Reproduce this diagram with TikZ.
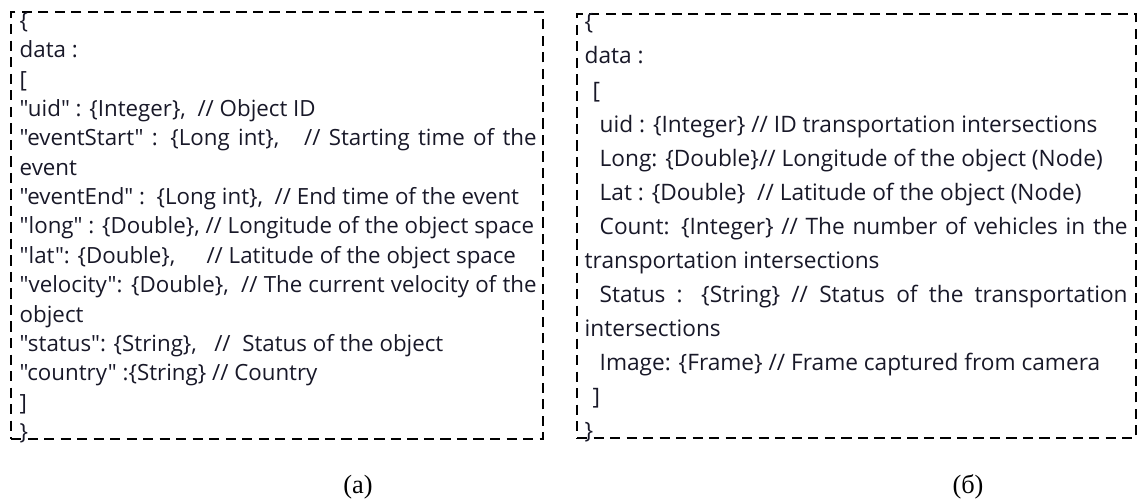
\documentclass[tikz,border=0pt]{standalone}
\usepackage{fontspec}
\setmainfont{Liberation Serif}
\newfontfamily\listfont{Open Sans}
\usetikzlibrary{positioning}
\definecolor{inkdark}{RGB}{24,24,40}
\newlength{\widtha}\setlength{\widtha}{10.34cm}
\newlength{\widthb}\setlength{\widthb}{10.86cm}
\newcommand{\fulla}[1]{\makebox[\widtha][s]{#1}}
\newcommand{\fullb}[1]{\makebox[\widthb][s]{#1}}
\newcommand{\inone}{\hspace*{0.16cm}}
\newcommand{\intwo}{\hspace*{0.3cm}}

\begin{document}
\begin{tikzpicture}[x=0.02cm, y=0.02cm,
  databox/.style={draw=black, dash pattern=on 5.8pt off 3.6pt, line width=0.8pt, inner sep=0pt},
  listing/.style={inner sep=0pt, align=left, text=inkdark},
  caption/.style={font=\fontsize{15}{17}\selectfont, inner sep=0pt}]
\useasboundingbox (0,0) rectangle (1139,502);
\node[databox, minimum width=10.64cm, minimum height=8.54cm] (boxa) at (277,276.5) {};
\node[databox, minimum width=11.18cm, minimum height=8.48cm] (boxb) at (856.5,276) {};
\node[listing, font=\listfont\fontsize{12.7}{16.7}\selectfont, below right=0.02cm and 0.18cm of boxa.north west] (lista) {%
\{\\
data :\\
{[}\\
"uid" : \{Integer\},\ \ // Object ID\\
\fulla{"eventStart" : \{Long int\},\ \ \ // Starting time of the}\\
event\\
"eventEnd" :\ \ \{Long int\},\ \ // End time of the event\\
"long" : \{Double\}, // Longitude of the object space\\
"lat": \{Double\},\hspace{1.4em}// Latitude of the object space\\
\fulla{"velocity": \{Double\},\ \ // The current velocity of the}\\
object\\
"status": \{String\},\ \ \ //\ \ Status of the object\\
"country" :\{String\} // Country\\
{]}\\
\}};
\node[listing, font=\listfont\fontsize{12.9}{19.4}\selectfont, below right=0.0cm and 0.16cm of boxb.north west] (listb) {%
\{\\
data :\\
\inone{[}\\
\intwo uid : \{Integer\} // ID transportation intersections\\
\intwo Long: \{Double\}// Longitude of the object (Node)\\
\intwo Lat : \{Double\}\ \ // Latitude of the object (Node)\\
\fullb{\intwo Count: \{Integer\} // The number of vehicles in the}\\
transportation intersections\\
\fullb{\intwo Status : \{String\} // Status of the transportation}\\
intersections\\
\intwo Image: \{Frame\} // Frame captured from camera\\
\inone{]}\\
\}};
\node[caption] (capa) at (358,15) {(a)};
\node[caption] (capb) at (968,15) {(б)};
\end{tikzpicture}
\end{document}
